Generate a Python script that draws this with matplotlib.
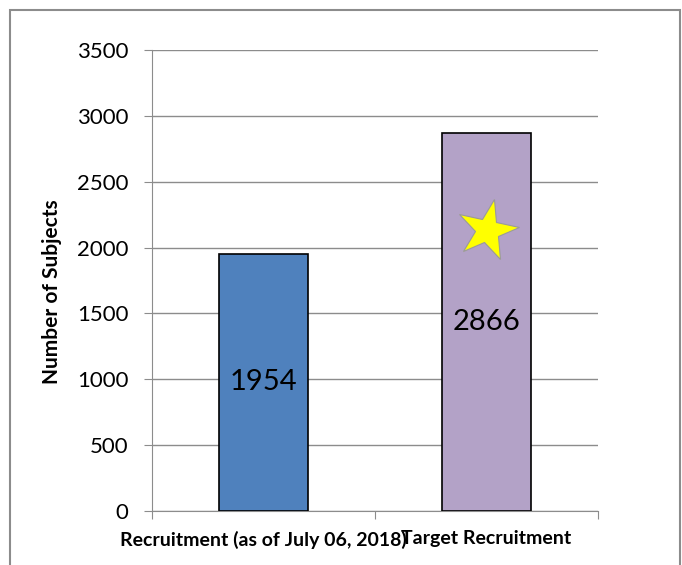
import matplotlib.pyplot as plt
from matplotlib.patches import Rectangle
from matplotlib.markers import MarkerStyle
from matplotlib.transforms import Affine2D

categories = ["Recruitment (as of July 06, 2018)", "Target Recruitment"]
values = [1954, 2866]
colors = ["#4f81bd", "#b3a2c7"]
yticks = [0, 500, 1000, 1500, 2000, 2500, 3000, 3500]
star_y = 2130

plt.rcParams['font.family'] = ['Lato', 'DejaVu Sans']

fig = plt.figure(figsize=(6.82, 5.65), dpi=100)
ax = fig.add_axes([0.2229, 0.0956, 0.654, 0.816])

# outer chart border (bottom edge runs off the picture)
fig.patches.append(Rectangle((10/682, -0.05), 670/682, 1.05 - 10/565,
                             transform=fig.transFigure, fill=False,
                             edgecolor="#8c8c8c", lw=1.5))

x = range(len(values))
ax.bar(x, values, width=0.4, color=colors, edgecolor="black", lw=1.2, zorder=3)
for i, v in enumerate(values):
    ax.text(i, v / 2, str(v), ha="center", va="center", fontsize=21, zorder=4)

star = MarkerStyle("*", transform=Affine2D().rotate_deg(-12))
ax.plot(1, star_y, marker=star, markersize=46, color="#ffff00",
        markeredgecolor="#9a9a9a", markeredgewidth=0.8, zorder=5)

ax.set_xlim(-0.5, 1.5)
ax.set_ylim(0, 3500)
ax.set_yticks(yticks)
ax.set_yticklabels([str(t) for t in yticks], fontsize=16)
ax.yaxis.grid(True, color="#8c8c8c", lw=1)
ax.set_axisbelow(True)

ax.set_xticks([-0.5, 0.5, 1.5])
ax.set_xticklabels([])
ax.set_xticks([0, 1], minor=True)
ax.set_xticklabels(categories, minor=True, fontsize=14, fontweight="bold")
ax.tick_params(axis="x", which="minor", length=0, pad=14)
ax.tick_params(axis="x", which="major", length=6, color="#8c8c8c")
ax.tick_params(axis="y", length=6, color="#8c8c8c", pad=11)

for s in ["top", "right"]:
    ax.spines[s].set_visible(False)
for s in ["left", "bottom"]:
    ax.spines[s].set_color("#8c8c8c")

ax.set_ylabel("Number of Subjects", fontsize=15, fontweight="bold")
ax.yaxis.set_label_coords(-0.202, 0.475)

fig.savefig("out.png", dpi=100)
